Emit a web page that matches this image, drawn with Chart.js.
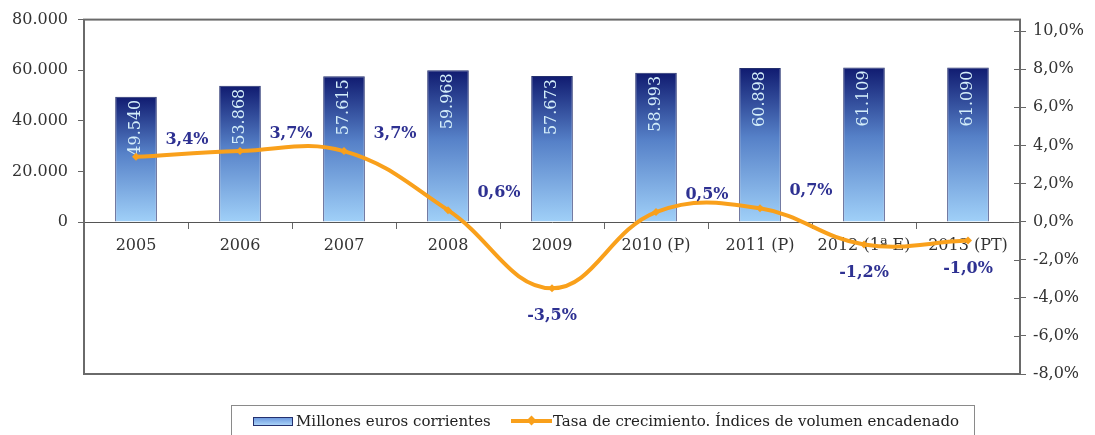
<!DOCTYPE html>
<html>
<head>
<meta charset="utf-8">
<script src="https://cdn.jsdelivr.net/npm/chart.js@4.4.1/dist/chart.umd.min.js"></script>
<style>
  body { margin: 0; background: #fff; }
  #wrap { position: relative; width: 1095px; height: 435px; }
  #legend {
    position: absolute; left: 231px; top: 405px; width: 744px; height: 40px;
    border: 1px solid #8a8a8a; box-sizing: border-box;
    font-family: "DejaVu Serif", serif; font-size: 15px; color: #222;
  }
  #legend .item { position: absolute; top: 6px; display: flex; align-items: center; white-space: nowrap; }
  #legend .bar { width: 38px; height: 7px; border: 1px solid #24306e; background: linear-gradient(#6f9be0, #a9d2f7); margin-right: 3px; }
  #legend .line { position: relative; width: 41px; height: 4px; background: #f9a01b; margin-right: 1px; }
  #legend .line::after { content: ""; position: absolute; left: 17px; top: -2px; width: 7px; height: 7px; background: #f9a01b; transform: rotate(45deg); }
</style>
</head>
<body>
<div id="wrap">
  <canvas id="graph_1"></canvas>
  <div id="legend"></div>
</div>
<script>
// data
const years = ["2005", "2006", "2007", "2008", "2009", "2010 (P)", "2011 (P)", "2012 (1ª E)", "2013 (PT)"];
const millones = [49540, 53868, 57615, 59968, 57673, 58993, 60898, 61109, 61090];
const tasa = [3.4, 3.7, 3.7, 0.6, -3.5, 0.5, 0.7, -1.2, -1.0];
const leftTicks = [0, 20000, 40000, 60000, 80000];
const rightTicks = [-8, -6, -4, -2, 0, 2, 4, 6, 8, 10];
const barName = "Millones euros corrientes";
const lineName = "Tasa de crecimiento. Índices de volumen encadenado";

const serif = "DejaVu Serif";
const orange = "#f9a01b";

const fmtMiles = (v) => v.toLocaleString("de-DE");
const fmtPct = (v) => v.toFixed(1).replace(".", ",") + "%";

// frame around the plot area + inner half of the right tick marks
const frame = {
  id: "frame",
  afterDraw(chart) {
    const a = chart.chartArea;
    const c = chart.ctx;
    c.save();
    c.strokeStyle = "#6a6a6a";
    c.lineWidth = 2;
    c.strokeRect(a.left, a.top, a.right - a.left, a.bottom - a.top);
    const s = chart.scales.y1;
    c.lineWidth = 1;
    c.strokeStyle = "#666";
    rightTicks.forEach((v) => {
      const py = Math.round(s.getPixelForValue(v)) + 0.5;
      c.beginPath();
      c.moveTo(a.right - 6, py);
      c.lineTo(a.right, py);
      c.stroke();
    });
    c.restore();
  },
};

// rotated value labels inside the bars
const barLabels = {
  id: "barLabels",
  afterDatasetDraw(chart, args) {
    if (args.index !== 0) return;
    const c = chart.ctx;
    c.save();
    c.font = "16px '" + serif + "'";
    c.fillStyle = "#d4eefa";
    c.textAlign = "right";
    c.textBaseline = "middle";
    args.meta.data.forEach((bar, i) => {
      c.save();
      c.translate(bar.x, bar.y + 3);
      c.rotate(-Math.PI / 2);
      c.fillText(fmtMiles(millones[i]), 0, 0);
      c.restore();
    });
    c.restore();
  },
};

// growth labels next to the line points
const lineLabels = {
  id: "lineLabels",
  afterDatasetsDraw(chart) {
    const meta = chart.getDatasetMeta(1);
    const c = chart.ctx;
    c.save();
    c.font = "bold 16px '" + serif + "'";
    c.fillStyle = "#2e3192";
    c.textAlign = "center";
    c.textBaseline = "middle";
    meta.data.forEach((pt, i) => {
      const v = tasa[i];
      if (v >= 0) c.fillText(fmtPct(v), pt.x + 51, pt.y - 17);
      else c.fillText(fmtPct(v), pt.x, pt.y + 28);
    });
    c.restore();
  },
};

const ctx = document.getElementById("graph_1");

new Chart(ctx, {
  type: "bar",
  data: {
    labels: years,
    datasets: [
      {
        label: barName,
        data: millones,
        yAxisID: "y",
        order: 2,
        borderColor: "#24306e",
        borderWidth: 1,
        barPercentage: 0.4,
        categoryPercentage: 1,
        backgroundColor: (c) => {
          const chart = c.chart;
          if (!chart.chartArea || c.type !== "data") return "#5a86cc";
          const y = chart.scales.y;
          const top = y.getPixelForValue(c.raw);
          const base = y.getPixelForValue(0);
          const g = chart.ctx.createLinearGradient(0, top, 0, base);
          g.addColorStop(0, "#101b70");
          g.addColorStop(0.45, "#5681c8");
          g.addColorStop(1, "#a0d0f8");
          return g;
        },
      },
      {
        type: "line",
        label: lineName,
        data: tasa,
        yAxisID: "y1",
        order: 1,
        borderColor: orange,
        borderWidth: 4,
        tension: 0.4,
        fill: false,
        pointStyle: "rectRot",
        pointRadius: 4,
        pointBackgroundColor: orange,
        pointBorderWidth: 0,
      },
    ],
  },
  options: {
    responsive: true,
    maintainAspectRatio: false,
    animation: false,
    layout: {
      padding: { top: 19, bottom: 61, left: 0, right: 0 },
    },
    plugins: {
      legend: { display: false },
      tooltip: { enabled: false },
    },
    scales: {
      x: {
        position: { y: 0 },
        grid: {
          drawOnChartArea: false,
          drawTicks: true,
          tickLength: 6,
          color: "#666",
        },
        border: { display: true, color: "#555", width: 1 },
        ticks: {
          padding: 8,
          color: "#333",
          maxRotation: 0,
          autoSkip: false,
          font: { family: serif, size: 16 },
        },
      },
      y: {
        position: "left",
        min: -60000,
        max: 80000,
        afterBuildTicks: (s) => { s.ticks = leftTicks.map((v) => ({ value: v })); },
        afterFit: (s) => { s.width = 84; },
        grid: {
          drawOnChartArea: false,
          drawTicks: true,
          tickLength: 6,
          color: "#666",
        },
        border: { color: "#6a6a6a", width: 2 },
        ticks: {
          padding: 10,
          color: "#333",
          font: { family: serif, size: 16 },
          callback: (v) => fmtMiles(v),
        },
      },
      y1: {
        position: "right",
        min: -8,
        max: 10.6,
        afterBuildTicks: (s) => { s.ticks = rightTicks.map((v) => ({ value: v })); },
        afterFit: (s) => { s.width = 75; },
        grid: {
          drawOnChartArea: false,
          drawTicks: true,
          tickLength: 6,
          color: "#666",
        },
        border: { color: "#6a6a6a", width: 2 },
        ticks: {
          padding: 7,
          color: "#333",
          font: { family: serif, size: 16 },
          callback: (v) => fmtPct(v),
        },
      },
    },
  },
  plugins: [frame, barLabels, lineLabels],
});

// legend
const legend = document.getElementById("legend");
legend.innerHTML =
  '<div class="item" style="left:21px"><span class="bar"></span>' + barName + '</div>' +
  '<div class="item" style="left:279px"><span class="line"></span>' + lineName + '</div>';
</script>
</body>
</html>
